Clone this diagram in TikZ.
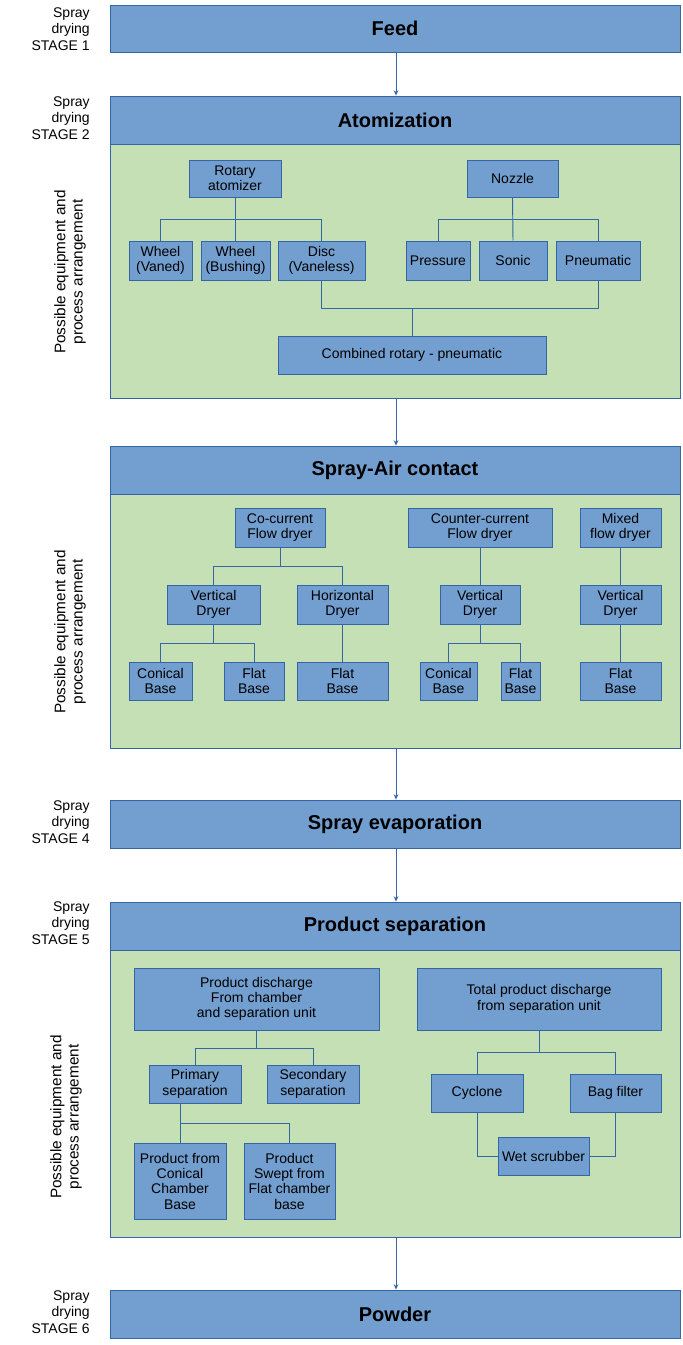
\documentclass[tikz,border=0pt]{standalone}
\usepackage{fontspec}
\setmainfont{Liberation Sans}
\usetikzlibrary{arrows.meta}
\definecolor{bfill}{HTML}{729FCF}
\definecolor{bline}{HTML}{3465A4}
\definecolor{gfill}{HTML}{C5E0B4}
\tikzset{
 box/.style={draw=bline,fill=bfill,inner sep=0pt,align=center,font=\fontsize{10.5}{11.5}\selectfont,line width=0.6pt},
 bar/.style={box,font=\fontsize{15}{17}\selectfont\bfseries},
 panel/.style={draw=bline,fill=gfill,line width=0.6pt},
 con/.style={draw=bline,line width=0.7pt},
 arr/.style={con,-{Stealth[length=4pt,width=3.5pt]}},
 stg/.style={align=right,anchor=east,font=\fontsize{10.5}{12.5}\selectfont,inner sep=0pt},
 side/.style={rotate=90,align=center,font=\fontsize{11.5}{13}\selectfont,inner sep=0pt}
}
\newcommand\bx[7][box]{%
 \pgfmathsetmacro\ww{(#5-#3)*0.75}\pgfmathsetmacro\hh{(#6-#4)*0.75}%
 \node[#1,minimum width=\ww pt,minimum height=\hh pt] (#2) at ({(#3+#5)/2},{(#4+#6)/2}) {#7};}
\begin{document}
\begin{tikzpicture}[x=0.75pt,y=-0.75pt]
\useasboundingbox (0,0) rectangle (682,1345);
% panels
\draw[panel] (110,144) rectangle (680,398);
\draw[panel] (110,494) rectangle (680,748);
\draw[panel] (110,950) rectangle (680,1237);
% bars
\bx[bar]{feed}{110}{5}{680}{52}{Feed}
\bx[bar]{atom}{110}{96}{680}{144}{Atomization}
\bx[bar]{sac}{110}{446}{680}{494}{Spray-Air contact}
\bx[bar]{sev}{110}{800}{680}{848}{Spray evaporation}
\bx[bar]{psep}{110}{902}{680}{950}{Product separation}
\bx[bar]{pow}{110}{1290}{680}{1338}{Powder}
% stage labels
\node[stg] (s1) at (90,29) {Spray\\drying\\STAGE 1};
\node[stg] (s2) at (90,118) {Spray\\drying\\STAGE 2};
\node[stg] (s4) at (90,822) {Spray\\drying\\STAGE 4};
\node[stg] (s5) at (90,923) {Spray\\drying\\STAGE 5};
\node[stg] (s6) at (90,1312) {Spray\\drying\\STAGE 6};
\node[side] (p1) at (70,272) {Possible equipment and\\process arrangement};
\node[side] (p2) at (70,632) {Possible equipment and\\process arrangement};
\node[side] (p3) at (66,1117) {Possible equipment and\\process arrangement};
% main arrows
\coordinate (a1) at (396,398);
\coordinate (a2) at (396,748);
\coordinate (a3) at (396,1237);
\draw[arr] (feed.south -| 396,0) -- (atom.north -| 396,0);
\draw[arr] (a1) -- (sac.north -| 396,0);
\draw[arr] (a2) -- (sev.north -| 396,0);
\draw[arr] (sev.south -| 396,0) -- (psep.north -| 396,0);
\draw[arr] (a3) -- (pow.north -| 396,0);
% atomization
\bx{rot}{189}{160}{281}{197}{Rotary\\atomizer}
\bx{noz}{467}{160}{558}{197}{Nozzle}
\bx{wv}{129}{241}{192}{280}{Wheel\\(Vaned)}
\bx{wb}{201}{241}{270}{280}{Wheel\\(Bushing)}
\bx{ds}{278}{241}{365}{280}{Disc\\(Vaneless)}
\bx{pr}{406}{241}{470}{280}{Pressure}
\bx{so}{479}{241}{547}{280}{Sonic}
\bx{pn}{556}{241}{640}{280}{Pneumatic}
\bx{crp}{278}{336}{546}{374}{Combined rotary - pneumatic}
\draw[con] (rot.south) -- (rot.south|-0,219);
\draw[con] (wv.north) -- (wv.north|-0,219) -- (ds.north|-0,219) -- (ds.north);
\draw[con] (wb.north) -- (wb.north|-0,219);
\draw[con] (noz.south) -- (so.north);
\draw[con] (pr.north) -- (pr.north|-0,219) -- (pn.north|-0,219) -- (pn.north);
\draw[con] (ds.south) -- (ds.south|-0,308) -- (pn.south|-0,308) -- (pn.south);
\draw[con] (crp.north) -- (crp.north|-0,308);
% spray-air contact
\bx{cc}{235}{508}{325}{547}{Co-current\\Flow dryer}
\bx{ct}{408}{508}{552}{547}{Counter-current\\Flow dryer}
\bx{mx}{580}{508}{661}{547}{Mixed\\flow dryer}
\bx{vd1}{167}{585}{260}{624}{Vertical\\Dryer}
\bx{hd}{297}{585}{388}{624}{Horizontal\\Dryer}
\bx{vd2}{440}{585}{520}{624}{Vertical\\Dryer}
\bx{vd3}{580}{585}{661}{624}{Vertical\\Dryer}
\bx{cb1}{129}{662}{192}{700}{Conical\\Base}
\bx{fb1}{224}{662}{284}{700}{Flat\\Base}
\bx{fb2}{297}{662}{388}{700}{Flat\\Base}
\bx{cb2}{420}{662}{477}{700}{Conical\\Base}
\bx{fb3}{501}{662}{540}{700}{Flat\\Base}
\bx{fb4}{580}{662}{661}{700}{Flat\\Base}
\draw[con] (cc.south) -- (cc.south|-0,566);
\draw[con] (vd1.north) -- (vd1.north|-0,566) -- (hd.north|-0,566) -- (hd.north);
\draw[con] (vd1.south) -- (vd1.south|-0,643);
\draw[con] (cb1.north) -- (cb1.north|-0,643) -- (fb1.north|-0,643) -- (fb1.north);
\draw[con] (hd.south) -- (fb2.north);
\draw[con] (ct.south-|480,0) -- (vd2.north);
\draw[con] (vd2.south) -- (vd2.south|-0,643);
\draw[con] (cb2.north) -- (cb2.north|-0,643) -- (fb3.north|-0,643) -- (fb3.north);
\draw[con] (mx.south) -- (vd3.north);
\draw[con] (vd3.south) -- (fb4.north);
% product separation
\bx{pd}{134}{968}{379}{1030}{Product discharge\\From chamber\\and separation unit}
\bx{td}{417}{968}{661}{1030}{Total product discharge\\from separation unit}
\bx{ps}{149}{1065}{241}{1103}{Primary\\separation}
\bx{ss}{267}{1065}{359}{1103}{Secondary\\separation}
\bx{pc}{134}{1143}{226}{1219}{Product from\\Conical\\Chamber\\Base}
\bx{pf}{244}{1143}{335}{1219}{Product\\Swept from\\Flat chamber\\base}
\bx{cy}{431}{1074}{523}{1112}{Cyclone}
\bx{bf}{570}{1074}{661}{1112}{Bag filter}
\bx{ws}{498}{1137}{589}{1175}{Wet scrubber}
\draw[con] (pd.south) -- (pd.south|-0,1048);
\draw[con] (ps.north) -- (ps.north|-0,1048) -- (ss.north|-0,1048) -- (ss.north);
\draw[con] (ps.south-|180,0) -- (180,1123) -- (pf.north|-0,1123) -- (pf.north);
\draw[con] (pc.north-|180,0) -- (180,1123);
\draw[con] (td.south) -- (td.south|-0,1052);
\draw[con] (cy.north) -- (cy.north|-0,1052) -- (bf.north|-0,1052) -- (bf.north);
\draw[con] (cy.south) |- (ws.west|-0,1156);
\draw[con] (bf.south) |- (ws.east|-0,1156);
\end{tikzpicture}
\end{document}
